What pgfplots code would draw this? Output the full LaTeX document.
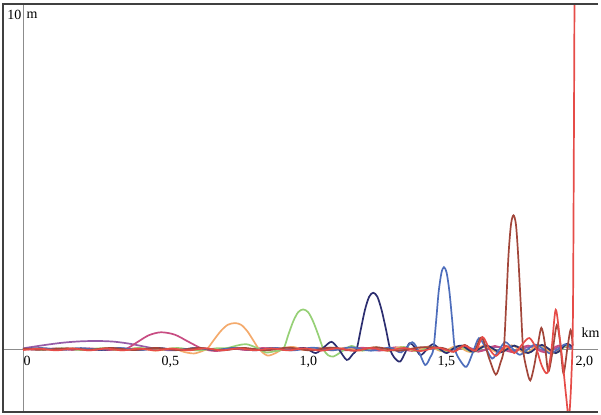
\documentclass[border=0pt]{standalone}
\usepackage{fontspec}
\setmainfont{Liberation Serif}
\usepackage{pgfplots}
\pgfplotsset{compat=1.18}
\definecolor{wviolet}{RGB}{150,92,168}
\definecolor{wmagenta}{RGB}{200,76,130}
\definecolor{worange}{RGB}{244,170,108}
\definecolor{wgreen}{RGB}{150,208,118}
\definecolor{wnavy}{RGB}{44,46,112}
\definecolor{wblue}{RGB}{78,110,188}
\definecolor{wbrown}{RGB}{162,70,58}
\definecolor{wred}{RGB}{230,76,72}
\newcommand{\lblfont}{\fontsize{14bp}{16bp}\selectfont}

\begin{document}
\begin{tikzpicture}
\begin{axis}[
    name=ax,
    scale only axis,
    width=595bp, height=408bp,
    xmin=-0.0725, xmax=2.0833,
    ymin=-1.8475, ymax=10.117,
    axis x line=middle, axis y line=middle,
    axis line style={-, draw=black!45, line width=0.8bp},
    hide obscured x ticks=false,
    hide obscured y ticks=false,
    xtick={0,0.5,1,1.5,2},
    xticklabels={0,{0,5},{1,0},{1,5},{2,0}},
    ytick={10}, yticklabels={10},
    major tick length=0pt,
    xticklabel style={anchor=north west, font=\lblfont, xshift=-3bp, yshift=-4bp},
    yticklabel style={anchor=north east, font=\lblfont, xshift=2bp, yshift=1bp},
    every axis plot/.append style={line width=1.7bp, smooth, no markers},
]
% violet, t1
\addplot[wviolet] coordinates {
 (0,0.02) (0.04,0.07) (0.09,0.13) (0.15,0.19) (0.21,0.225) (0.27,0.235)
 (0.33,0.215) (0.39,0.15) (0.44,0.07) (0.48,0.01) (0.53,-0.04) (0.58,-0.02)
 (0.64,0.02) (0.70,-0.02) (0.76,0.02) (0.82,-0.03) (0.88,0.02) (0.94,-0.03)
 (1.00,0.03) (1.06,-0.02) (1.12,0.03) (1.18,-0.03) (1.24,0.03) (1.30,-0.04)
 (1.36,0.04) (1.42,-0.04) (1.48,0.05) (1.54,-0.05) (1.60,0.06) (1.66,-0.05)
 (1.72,0.06) (1.78,-0.06) (1.84,0.07) (1.90,-0.07) (1.95,0.08) (1.99,0.02)
};
% magenta, t2
\addplot[wmagenta] coordinates {
 (0,0) (0.06,-0.03) (0.12,0.02) (0.18,-0.03) (0.24,0.02) (0.30,-0.03)
 (0.37,0) (0.41,0.18) (0.455,0.40) (0.50,0.49) (0.55,0.42) (0.60,0.21)
 (0.65,0.01) (0.70,-0.06) (0.76,0.01) (0.81,-0.03) (0.87,0.03) (0.93,-0.03)
 (0.99,0.03) (1.05,-0.03) (1.11,0.04) (1.17,-0.04) (1.23,0.04) (1.29,-0.05)
 (1.35,0.05) (1.41,-0.06) (1.47,0.07) (1.53,-0.07) (1.59,0.08) (1.65,-0.08)
 (1.71,0.09) (1.77,-0.09) (1.83,0.10) (1.89,-0.10) (1.94,0.10) (1.99,0)
};
% orange, t3
\addplot[worange] coordinates {
 (0,-0.02) (0.06,0.02) (0.12,-0.03) (0.18,0.02) (0.24,-0.04) (0.30,0.03)
 (0.36,-0.04) (0.42,0.03) (0.48,-0.05) (0.54,0.02) (0.585,-0.09) (0.62,-0.13)
 (0.65,-0.06) (0.667,0) (0.692,0.27) (0.717,0.53) (0.742,0.71) (0.768,0.76)
 (0.79,0.71) (0.812,0.53) (0.833,0.27) (0.855,0) (0.885,-0.19) (0.915,-0.12)
 (0.945,0.02) (0.98,0.06) (1.02,-0.03) (1.07,0.04) (1.12,-0.04) (1.17,0.04)
 (1.22,-0.05) (1.27,0.05) (1.32,-0.05) (1.37,0.06) (1.42,-0.06) (1.47,0.07)
 (1.52,-0.07) (1.57,0.08) (1.62,-0.09) (1.67,0.10) (1.72,-0.10) (1.77,0.11)
 (1.82,-0.12) (1.87,0.12) (1.92,-0.13) (1.96,0.12) (1.99,0)
};
% green, t4
\addplot[wgreen] coordinates {
 (0,0.01) (0.07,-0.02) (0.14,0.02) (0.21,-0.03) (0.28,0.02) (0.35,-0.03)
 (0.42,0.03) (0.49,-0.03) (0.56,0.03) (0.63,-0.04) (0.70,0.02) (0.74,0.03)
 (0.78,0.11) (0.81,0.14) (0.845,0.04) (0.88,-0.10) (0.915,-0.06) (0.943,0)
 (0.961,0.41) (0.979,0.81) (0.997,1.08) (1.015,1.16) (1.033,1.08)
 (1.051,0.81) (1.07,0.41) (1.088,0)
 (1.105,-0.18) (1.125,-0.22) (1.15,-0.10) (1.19,0.09) (1.23,-0.05) (1.28,0.05)
 (1.33,-0.06) (1.38,0.06) (1.43,-0.07) (1.48,0.07) (1.53,-0.08) (1.58,0.08)
 (1.63,-0.09) (1.68,0.09) (1.73,-0.10) (1.78,0.10) (1.83,-0.11) (1.88,0.11)
 (1.93,-0.12) (1.97,0.10) (1.99,0)
};
% navy, t5
\addplot[wnavy] coordinates {
 (0,0) (0.07,0.02) (0.14,-0.02) (0.21,0.02) (0.28,-0.03) (0.35,0.02)
 (0.42,-0.03) (0.49,0.03) (0.56,-0.03) (0.63,0.03) (0.70,-0.03) (0.77,0.03)
 (0.84,-0.03) (0.91,0.03) (0.97,-0.04) (1.02,0.03) (1.06,-0.12) (1.09,0.05)
 (1.118,0.21) (1.145,-0.02) (1.173,-0.32) (1.195,-0.15) (1.209,0)
 (1.224,0.58) (1.239,1.15) (1.254,1.53) (1.269,1.65) (1.284,1.53)
 (1.299,1.15) (1.315,0.58) (1.33,0)
 (1.345,-0.25) (1.366,-0.37)
 (1.385,-0.10) (1.40,0.17) (1.42,0.05) (1.44,-0.18) (1.465,0) (1.485,0.14)
 (1.51,0) (1.535,-0.12) (1.56,0.02) (1.59,0.10) (1.63,-0.08) (1.68,0.10)
 (1.73,-0.10) (1.78,0.10) (1.83,-0.12) (1.88,0.12) (1.93,-0.12) (1.97,0.15)
 (1.99,0.05)
};
% blue, t6
\addplot[wblue] coordinates {
 (0,-0.01) (0.07,0.02) (0.14,-0.02) (0.21,0.02) (0.28,-0.02) (0.35,0.03)
 (0.42,-0.03) (0.49,0.02) (0.56,-0.03) (0.63,0.03) (0.70,-0.03) (0.77,0.03)
 (0.84,-0.04) (0.91,0.03) (0.98,-0.04) (1.05,0.04) (1.12,-0.04) (1.19,0.05)
 (1.26,-0.05) (1.33,0.04) (1.37,-0.10) (1.41,0.20) (1.435,-0.10)
 (1.457,-0.47) (1.475,-0.25) (1.487,0)
 (1.497,0.84) (1.506,1.68) (1.516,2.23) (1.525,2.40) (1.535,2.23)
 (1.545,1.68) (1.555,0.84) (1.565,0)
 (1.585,-0.35) (1.607,-0.52) (1.63,-0.10)
 (1.652,0.32) (1.675,0.05) (1.70,-0.28) (1.725,-0.02) (1.748,0.20)
 (1.775,0) (1.80,-0.17) (1.83,0) (1.855,0.13) (1.885,0) (1.91,-0.13)
 (1.94,0) (1.965,0.14) (1.99,0)
};
% brown, t7
\addplot[wbrown] coordinates {
 (0,0.01) (0.08,-0.02) (0.16,0.02) (0.24,-0.02) (0.32,0.03) (0.40,-0.03)
 (0.48,0.03) (0.56,-0.03) (0.64,0.03) (0.72,-0.04) (0.80,0.03) (0.88,-0.04)
 (0.96,0.04) (1.04,-0.04) (1.12,0.04) (1.20,-0.05) (1.28,0.05) (1.36,-0.05)
 (1.44,0.05) (1.52,0.03) (1.56,-0.08) (1.60,0.12) (1.635,-0.05)
 (1.662,0.34) (1.69,-0.30) (1.713,-0.75) (1.73,-0.40) (1.742,0)
 (1.751,1.38) (1.759,2.75) (1.768,3.65) (1.777,3.92) (1.786,3.65)
 (1.794,2.75) (1.803,1.38) (1.812,0)
 (1.825,-0.60) (1.838,-0.92) (1.852,-0.50) (1.865,0.10) (1.878,0.62)
 (1.89,0.20) (1.903,-0.66) (1.918,-0.10) (1.934,0.70) (1.946,0.20)
 (1.958,-0.71) (1.972,0) (1.984,0.56) (1.992,0.10)
};
% red, t8
\addplot[wred] coordinates {
 (0,-0.03) (0.06,0.01) (0.12,-0.04) (0.18,0.01) (0.24,-0.04) (0.30,0.01)
 (0.36,-0.04) (0.42,0.01) (0.48,-0.04) (0.54,0.01) (0.60,-0.04) (0.66,0.02)
 (0.72,-0.04) (0.78,0.02) (0.84,-0.04) (0.90,0.02) (0.96,-0.04) (1.02,0.02)
 (1.08,-0.05) (1.14,0.02) (1.20,-0.05) (1.26,0.03) (1.32,-0.05) (1.38,0.03)
 (1.44,-0.06) (1.50,0.04) (1.56,-0.08) (1.60,0.10) (1.64,-0.05)
 (1.665,0.35) (1.69,0) (1.715,-0.20) (1.75,0.10) (1.78,-0.12) (1.81,0.15)
 (1.835,0.32) (1.86,0) (1.88,-0.50) (1.90,-0.70) (1.915,0) (1.93,1.15)
 (1.945,0.30) (1.958,-0.60) (1.968,-1.40) (1.978,-2.00) (1.987,-0.80)
 (1.993,1.50) (1.999,12)
};
\node[anchor=north west, font=\lblfont, yshift=0bp] at (axis cs:0,10) {m};
\node[anchor=base west, font=\lblfont, xshift=3bp, yshift=11bp] at (axis cs:2,0) {km};
\end{axis}
\draw[black!75, line width=1.6bp] (ax.north east) -- (ax.north west) -- (ax.south west) -- (ax.south east);
\path ([shift={(-3bp,-3bp)}]ax.south west) rectangle ([shift={(3bp,4bp)}]ax.north east);
\end{tikzpicture}
\end{document}
